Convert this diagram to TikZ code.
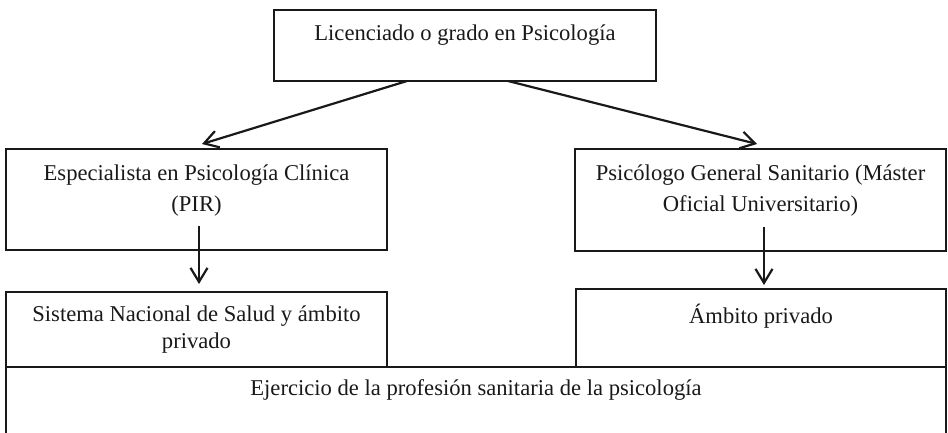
\documentclass[tikz,border=0pt]{standalone}
\usepackage{fontspec}
\setmainfont{Liberation Serif}
\usetikzlibrary{arrows.meta}
\newcommand\boxtxt[4]{\parbox[c][#2pt][t]{#1pt}{\centering\rule{0pt}{#3pt}#4\par}}
\begin{document}
\begin{tikzpicture}[x=1pt,y=-1pt,
  blk/.style={draw=black!90, line width=2.2pt, inner sep=0pt, outer sep=0pt, anchor=north west,
    font=\fontsize{22.6}{31}\selectfont, text=black!90},
  conn/.style={draw=black!90, line width=2.2pt, -{Straight Barb[length=14pt,width=17pt,line width=2.2pt]}}]
\useasboundingbox (0,0) rectangle (948,432);
\node[blk] (ejer) at (6,367) {\boxtxt{940}{80}{28}{Ejercicio de la profesión sanitaria de la psicología}};
\node[blk] (top) at (274,10) {\boxtxt{382}{71}{30}{Licenciado o grado en Psicología}};
\node[blk] (pir) at (6,149) {\boxtxt{381}{101}{31}{Especialista en Psicología Clínica\\(PIR)}};
\node[blk] (pgs) at (575,149) {\boxtxt{371}{102}{31}{Psicólogo General Sanitario (Máster\\Oficial Universitario)}};
\node[blk] (sns) at (6,292) {\fontsize{22.6}{27}\selectfont\boxtxt{381}{75}{29}{Sistema Nacional de Salud y ámbito\\privado}};
\node[blk] (priv) at (576,289) {\boxtxt{370}{78}{34}{Ámbito privado}};
\draw[conn] ([xshift=133pt]top.south west) -- ([xshift=196pt,yshift=5pt]pir.north west);
\draw[conn] ([xshift=234pt]top.south west) -- ([xshift=182pt,yshift=5pt]pgs.north west);
\draw[conn] ([xshift=193pt,yshift=24pt]pir.south west) -- ([xshift=193pt,yshift=8pt]sns.north west);
\draw[conn] ([xshift=189pt,yshift=24pt]pgs.south west) -- ([xshift=188pt,yshift=4pt]priv.north west);
\end{tikzpicture}
\end{document}
